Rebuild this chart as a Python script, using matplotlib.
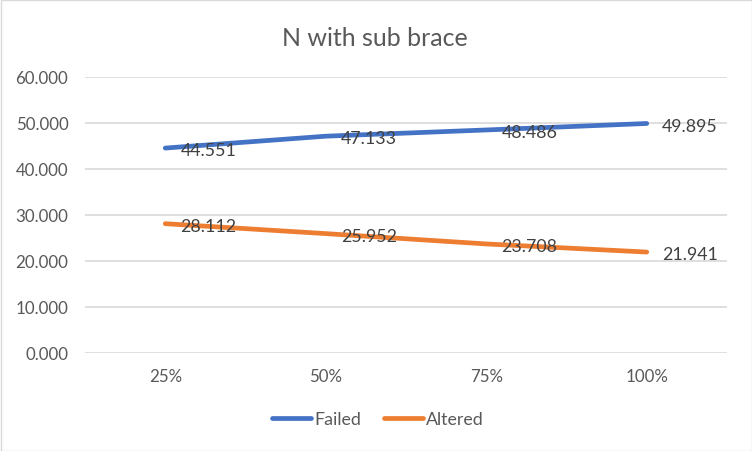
import matplotlib
matplotlib.use("Agg")
import matplotlib.pyplot as plt
from matplotlib.patches import Rectangle

categories = ["25%", "50%", "75%", "100%"]
failed = [44.551, 47.133, 48.486, 49.895]
altered = [28.112, 25.952, 23.708, 21.941]
yticks = [0, 10, 20, 30, 40, 50, 60]

plt.rcParams['font.family'] = ['Lato', 'DejaVu Sans']
txt = '#595959'
W, H = 752, 452
fig = plt.figure(figsize=(W/100, H/100), dpi=100)
ax = fig.add_axes([85/W, 1-354/H, (727-85)/W, (354-78)/H])

x = list(range(len(categories)))
ax.plot(x, failed, color='#4472C4', lw=3.4, solid_capstyle='round', label='Failed', zorder=3)
ax.plot(x, altered, color='#ED7D31', lw=3.4, solid_capstyle='round', label='Altered', zorder=3)

for series in (failed, altered):
    for xi, v in zip(x, series):
        ax.annotate(f"{v:.3f}", (xi, v), xytext=(11, -1.5), textcoords='offset points',
                    ha='left', va='center', fontsize=12.8, color='#404040', zorder=4)

ax.set_xlim(-0.5, len(categories)-0.5)
ax.set_ylim(0, 60)
ax.set_yticks(yticks)
ax.set_yticklabels([f"{t:.3f}" for t in yticks])
ax.set_xticks(x)
ax.set_xticklabels(categories)
ax.tick_params(axis='both', length=0, labelsize=12.2, colors=txt)
ax.tick_params(axis='y', pad=12)
ax.tick_params(axis='x', pad=11)
ax.grid(axis='y', color='#D9D9D9', lw=1.2)
ax.set_axisbelow(True)
for s in ax.spines.values():
    s.set_visible(False)

fig.text(375/W, 1-38/H, "N with sub brace", ha='center', va='center', fontsize=18, color=txt)

fig.legend(loc='center', bbox_to_anchor=(378/W, 1-420/H), ncol=2, frameon=False,
           fontsize=12.8, labelcolor=txt, handlelength=2.2, handletextpad=0.15, columnspacing=1.3)

fig.patches.append(Rectangle((0.5/W, 0.5/H), (W-1)/W, (H-1)/H, transform=fig.transFigure,
                             fill=False, edgecolor='#D9D9D9', lw=1))
fig.savefig("out.png", dpi=100)
